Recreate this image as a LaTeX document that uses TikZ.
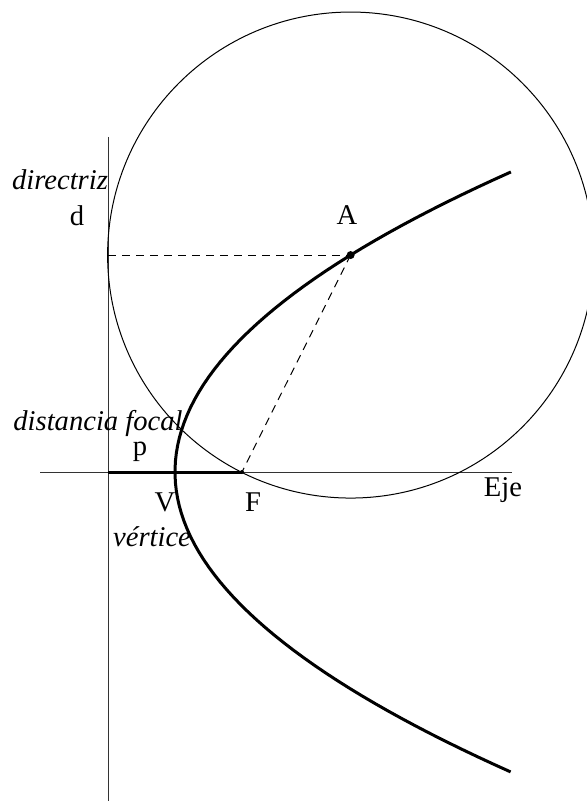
\documentclass[tikz,border=0pt]{standalone}
\usepackage{fontspec}
\setmainfont{Liberation Serif}
\usetikzlibrary{positioning}

\begin{document}
\begin{tikzpicture}[
  x=0.5pt, y=-0.5pt,
  node distance=4pt and 4pt,
  lbl/.style={inner sep=0pt, font=\fontsize{14.3}{16}\selectfont},
  ilbl/.style={lbl, font=\fontsize{14.3}{16}\selectfont\itshape},
  thin line/.style={line width=0.5pt, black!80},
  curve/.style={line width=1.5pt, black},
  guide/.style={line width=0.5pt, dashed, dash pattern=on 4pt off 3pt}
]
  \useasboundingbox (0,0) rectangle (587,801);
  \clip (0,0) rectangle (587,801);
  % points
  \coordinate (V) at (175,472);
  \coordinate (F) at (242,472);
  \coordinate (D) at (108,472);
  \coordinate (A) at ({175+67*1.619*1.619},{472-134*1.619});
  \coordinate (Dtop) at (108,137);
  \coordinate (Dbot) at (108,801);
  \coordinate (Eleft) at (40,472);
  \coordinate (Eright) at (512,472);
  \coordinate (H) at (D |- A);
  % directriz and eje
  \draw[thin line] (Dtop) -- (Dbot);
  \draw[thin line] (Eleft) -- (Eright);
  \draw[line width=1.5pt] (D) -- (F);
  % circle through F, tangent to the directrix
  \draw[line width=0.5pt] (A) circle (243);
  % parabola
  \draw[curve] plot[domain=-2.239:2.239, samples=80] ({175+67*\x*\x},{472+134*\x});
  \draw[guide] (H) -- (A);
  \draw[guide] (A) -- (F);
  \fill (A) circle (2pt);
  \fill (F) circle (1pt);
  % labels
  \node[ilbl] (dirtxt) at (60,180) {directriz};
  \node[lbl] (d) at (77,216) {d};
  \node[lbl] (Alab) at (347,215) {A};
  \node[ilbl] (foc) at (98,423) {distancia focal};
  \node[lbl] (p) at (140,452) {p};
  \node[lbl] (Vlab) at (165,502) {V};
  \node[lbl] (Flab) at (253,502) {F};
  \node[ilbl] (vert) at (152,537) {vértice};
  \node[lbl] (eje) at (503,490) {Eje};
\end{tikzpicture}
\end{document}
